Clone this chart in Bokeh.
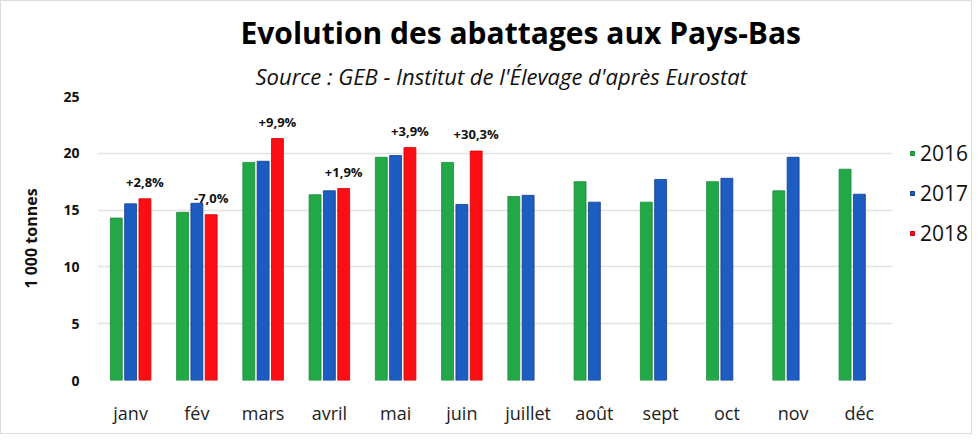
from bokeh.plotting import figure
from bokeh.models import ColumnDataSource, FactorRange, Legend, LegendItem, Title, Range1d, FixedTicker
from bokeh.layouts import row
from bokeh.transform import dodge
from bokeh.core.properties import value
from bokeh.embed import file_html
from bokeh.resources import INLINE

months = ["janv", "fév", "mars", "avril", "mai", "juin", "juillet", "août", "sept", "oct", "nov", "déc"]
v2016 = [14.3, 14.8, 19.2, 16.35, 19.65, 19.2, 16.2, 17.5, 15.7, 17.5, 16.7, 18.6]
v2017 = [15.55, 15.6, 19.3, 16.7, 19.8, 15.5, 16.3, 15.7, 17.7, 17.8, 19.65, 16.4]
months_2018 = ["janv", "fév", "mars", "avril", "mai", "juin"]
v2018 = [16.0, 14.6, 21.3, 16.9, 20.5, 20.2]
evol_2018 = ["+2,8%", "-7,0%", "+9,9%", "+1,9%", "+3,9%", "+30,3%"]
years = ["2016", "2017", "2018"]
y_ticks = [0, 5, 10, 15, 20, 25]

GREEN = "#22a846"
BLUE = "#1d5cc0"
RED = "#fb0f14"
COLORS = [GREEN, BLUE, RED]
EDGES = ["#1a8a38", "#123c8c", "#d00000"]

src = ColumnDataSource(dict(m=months, a=v2016, b=v2017))
src18 = ColumnDataSource(dict(m=months_2018, c=v2018, t=evol_2018))

FONT = "Open Sans"

p = figure(width=891, height=432, x_range=FactorRange(*months), y_range=Range1d(0, 25),
           output_backend="svg", toolbar_location=None,
           min_border_left=96, min_border_right=0, min_border_top=95, min_border_bottom=53)

off = 0.216
w = 0.18
r16 = p.vbar(x=dodge("m", -off, range=p.x_range), top="a", width=w, source=src,
             fill_color=GREEN, line_color=EDGES[0], line_width=0.8)
r17 = p.vbar(x=dodge("m", 0, range=p.x_range), top="b", width=w, source=src,
             fill_color=BLUE, line_color=EDGES[1], line_width=0.8)
r18 = p.vbar(x=dodge("m", off, range=p.x_range), top="c", width=w, source=src18,
             fill_color=RED, line_color=EDGES[2], line_width=0.8)

p.text(x=dodge("m", off, range=p.x_range), y="c", text="t", source=src18,
       text_align="center", text_baseline="bottom", y_offset=-8,
       text_font=value(FONT), text_font_style="bold", text_font_size="13px", text_color="#111111")

# axes
p.xaxis.axis_line_color = None
p.yaxis.axis_line_color = None
p.xaxis.major_tick_line_color = None
p.yaxis.major_tick_line_color = None
p.xaxis.minor_tick_line_color = None
p.yaxis.minor_tick_line_color = None
p.yaxis.ticker = FixedTicker(ticks=y_ticks)
p.xaxis.major_label_text_font = FONT
p.xaxis.major_label_text_font_size = "18px"
p.xaxis.major_label_text_color = "#222222"
p.xaxis.major_label_standoff = 14
p.yaxis.major_label_text_font = FONT
p.yaxis.major_label_text_font_style = "bold"
p.yaxis.major_label_text_font_size = "14px"
p.yaxis.major_label_text_color = "#111111"
p.yaxis.major_label_standoff = 12
p.yaxis.axis_label = "1 000 tonnes"
p.yaxis.axis_label_text_font = FONT
p.yaxis.axis_label_text_font_style = "bold"
p.yaxis.axis_label_text_font_size = "16px"
p.yaxis.axis_label_text_color = "#111111"
p.yaxis.axis_label_standoff = 18

p.xgrid.grid_line_color = None
p.ygrid.grid_line_color = "#e2e2e2"
p.ygrid.grid_line_width = 1.5
p.outline_line_color = None
p.x_range.range_padding = 0
p.x_range.factor_padding = 0

# titles
sub = Title(text="Source : GEB - Institut de l'Élevage d'après Eurostat", align="left",
            text_font=FONT, text_font_style="italic", text_font_size="22px",
            text_color="#111111", offset=158, standoff=12)
p.add_layout(sub, "above")
main = Title(text="Evolution des abattages aux Pays-Bas", align="left",
             text_font=FONT, text_font_style="bold", text_font_size="30px",
             text_color="#000000", offset=143, standoff=0)
p.add_layout(main, "above")

# legend panel
q = figure(width=79, height=432, x_range=Range1d(0, 1), y_range=Range1d(0, 1),
           output_backend="svg", toolbar_location=None,
           min_border_left=0, min_border_right=0, min_border_top=0, min_border_bottom=0)
q.axis.visible = False
q.grid.grid_line_color = None
q.outline_line_color = None
items = []
for yr, c, e in zip(years, COLORS, EDGES):
    rr = q.scatter(x=[-5], y=[-5], marker="square", size=10, fill_color=c, line_color=e)
    items.append(LegendItem(label=yr, renderers=[rr]))
legend = Legend(items=items, location=(15, 133), orientation="vertical",
                glyph_width=10, glyph_height=10, label_standoff=3, spacing=12,
                padding=0, margin=0, border_line_color=None, background_fill_alpha=0,
                label_text_font=FONT, label_text_font_size="21px", label_text_color="#111111")
q.add_layout(legend)

layout = row(p, q)
layout.styles = {"border": "1px solid #dcdcdc"}
open("out.html", "w").write(file_html(layout, INLINE))
